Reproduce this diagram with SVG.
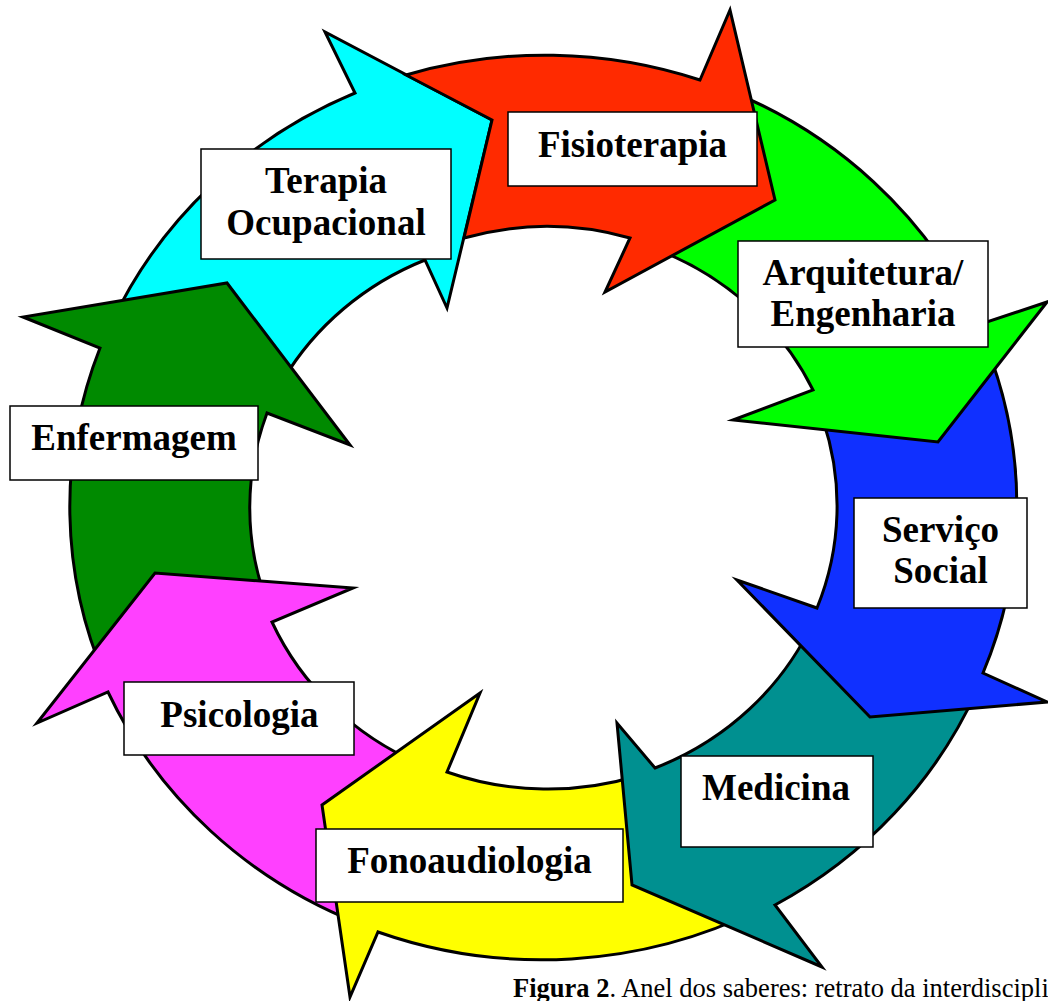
<svg xmlns="http://www.w3.org/2000/svg" width="1048" height="1001" viewBox="0 0 1048 1001">
<style>
.arrow{stroke:#000;stroke-width:3;stroke-linejoin:miter;stroke-miterlimit:10}
.box{fill:#fff;stroke:#000;stroke-width:1.5}
.lbl{font-family:"Liberation Serif","Times New Roman",serif;font-weight:bold;font-size:37px;fill:#000;text-anchor:middle}
.cap{font-family:"Liberation Serif","Times New Roman",serif;font-size:26.5px;fill:#000}
</style>
<rect width="1048" height="1001" fill="#fff"/>
<g id="arrows">
<path id="arrow-terapia" class="arrow" fill="#00FFFF" d="M283,380 L112,322 A474,452 0 0 1 355,93 L325,32 L492,120 L447,308 L425,260 A294,281 0 0 0 283,380 Z"/>
<path id="arrow-enfermagem" class="arrow" fill="#008A00" d="M266,600 L106,680 A474,452 0 0 1 100,348 L23,317 L227,283 L350,445 L267,413 A294,281 0 0 0 266,600 Z"/>
<path id="arrow-psicologia" class="arrow" fill="#FF40FF" d="M420,764 L360,924 A474,452 0 0 1 108,692 L37,723 L155,573 L353,588 L272,622 A294,281 0 0 0 420,764 Z"/>
<path id="arrow-fono" class="arrow" fill="#FFFF00" d="M760,909 A474,452 0 0 1 378,932 L350,997 L322,805 L480,693 L447,772 A294,281 0 0 0 640,775 Z"/>
<path id="arrow-medicina" class="arrow" fill="#009090" d="M977,690 A474,452 0 0 1 775,905 L822,967 L632,885 L617,723 L655,768 A294,281 0 0 0 814,620 Z"/>
<path id="arrow-servico" class="arrow" fill="#1030FF" d="M984,340 A474,452 0 0 1 983,673 L1047,702 L870,717 L737,580 L817,608 A294,281 0 0 0 823,420 Z"/>
<path id="arrow-arquitetura" class="arrow" fill="#00FF00" d="M720,87 A474,452 0 0 1 978,325 L1047,302 L938,442 L733,420 L813,390 A294,281 0 0 0 650,247 Z"/>
<path id="arrow-fisio" class="arrow" fill="#FF2A00" d="M406,75 A474,452 0 0 1 700,80 L730,10 L775,200 L605,292 L630,238 A294,281 0 0 0 464,238 L492,120 Z"/>
</g>
<g id="node-fisioterapia">
<rect class="box" x="508" y="112" width="249" height="74"/>
<text class="lbl" x="632.5" y="157">Fisioterapia</text>
</g>
<g id="node-terapia-ocupacional">
<rect class="box" x="201" y="149" width="250" height="110"/>
<text class="lbl" x="326" y="193">Terapia</text>
<text class="lbl" x="326" y="235">Ocupacional</text>
</g>
<g id="node-arquitetura">
<rect class="box" x="738" y="241" width="250" height="106"/>
<text class="lbl" x="863" y="285">Arquitetura/</text>
<text class="lbl" x="863" y="326">Engenharia</text>
</g>
<g id="node-servico-social">
<rect class="box" x="854" y="498" width="173" height="110"/>
<text class="lbl" x="940.5" y="542">Serviço</text>
<text class="lbl" x="940.5" y="583">Social</text>
</g>
<g id="node-medicina">
<rect class="box" x="681" y="756" width="192" height="91"/>
<text class="lbl" x="776" y="800">Medicina</text>
</g>
<g id="node-fonoaudiologia">
<rect class="box" x="316" y="829" width="307" height="73"/>
<text class="lbl" x="469.5" y="873">Fonoaudiologia</text>
</g>
<g id="node-psicologia">
<rect class="box" x="124" y="682" width="230" height="73"/>
<text class="lbl" x="239.5" y="727">Psicologia</text>
</g>
<g id="node-enfermagem">
<rect class="box" x="10" y="406" width="248" height="74"/>
<text class="lbl" x="134" y="450">Enfermagem</text>
</g>
<g id="caption">
<text class="cap" x="513" y="997"><tspan font-weight="bold">Figura 2</tspan>. Anel dos saberes: retrato da interdiscipli</text>
</g>
</svg>
